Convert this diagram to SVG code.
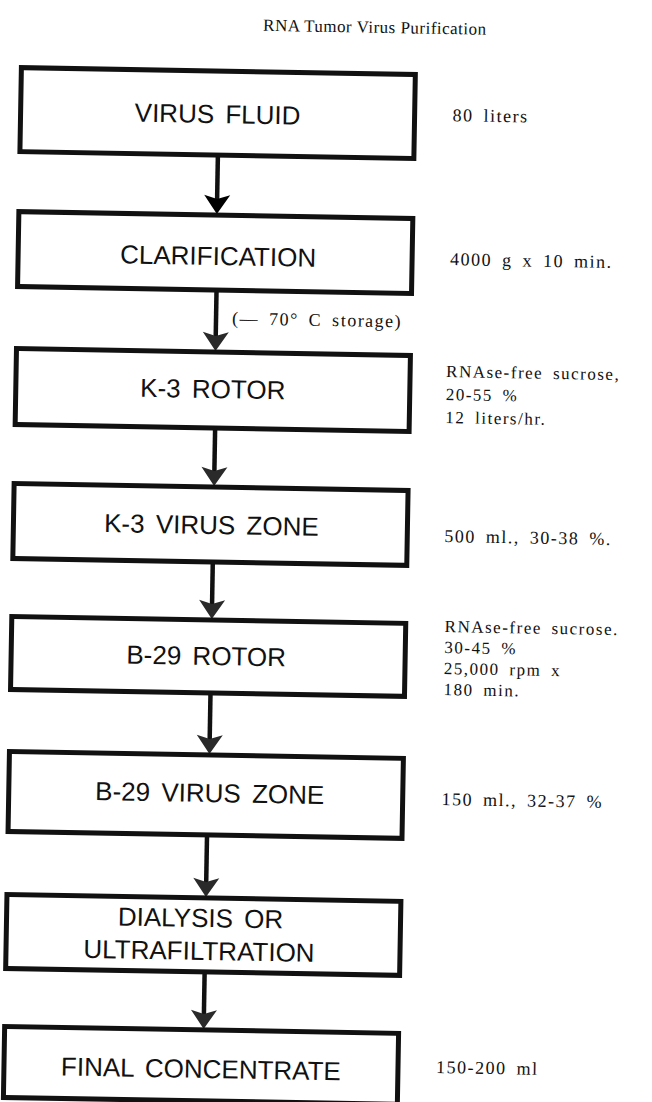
<svg xmlns="http://www.w3.org/2000/svg" width="652" height="1102" viewBox="0 0 652 1102">
<style>
.box{fill:none;stroke:#111;stroke-width:5}
.lbl{font-family:"Liberation Sans",Arial,sans-serif;font-size:26px;fill:#111;text-anchor:middle;word-spacing:4px}
.note{font-family:"Liberation Serif","Times New Roman",serif;font-size:18px;fill:#111;letter-spacing:1.5px;word-spacing:4px}
.sm{font-size:17px}
.title{font-family:"Liberation Serif","Times New Roman",serif;font-size:17px;fill:#111}
.shaft{stroke:#111;stroke-width:4.5}
.head{fill:#2a2a2a}
</style>
<rect width="652" height="1102" fill="#fff"/>
<g transform="rotate(1 326 551)">
<text class="title" x="254" y="32" textLength="223" lengthAdjust="spacing">RNA Tumor Virus Purification</text>
<g id="connectors">
<line class="shaft" x1="211" y1="158" x2="211" y2="202"/><polygon class="head" style="fill:#000" points="198,197 211,201 224,197 211,216"/>
<line class="shaft" x1="212" y1="293" x2="212" y2="339"/>
<text class="note" x="228" y="326">(— 70° C storage)</text>
<polygon class="head" points="199,334 212,338 225,334 212,353"/>
<line class="shaft" x1="213" y1="431" x2="213" y2="474"/><polygon class="head" points="200,469 213,473 226,469 213,488"/>
<line class="shaft" x1="213" y1="565" x2="213" y2="607"/><polygon class="head" points="200,602 213,606 226,602 213,621"/>
<line class="shaft" x1="213" y1="696" x2="213" y2="742"/><polygon class="head" points="200,737 213,741 226,737 213,756"/>
<line class="shaft" x1="212" y1="838" x2="212" y2="885"/><polygon class="head" points="199,880 212,884 225,880 212,899"/>
<line class="shaft" x1="212" y1="975" x2="212" y2="1017"/><polygon class="head" points="199,1012 212,1016 225,1012 212,1031"/>
</g>
<g id="n1"><rect class="box" x="13" y="73" width="394" height="84"/><text class="lbl" x="210" y="125">VIRUS FLUID</text><text class="note" x="445" y="119">80 liters</text></g>
<g id="n2"><rect class="box" x="13" y="217" width="394" height="75"/><text class="lbl" x="213" y="267">CLARIFICATION</text><text class="note" x="445" y="263">4000 g x 10 min.</text></g>
<g id="n3"><rect class="box" x="13" y="354" width="394" height="76"/><text class="lbl" x="210" y="400">K-3 ROTOR</text>
<text class="note sm" x="443" y="375">RNAse-free sucrose,</text><text class="note sm" x="443" y="398">20-55 %</text><text class="note sm" x="443" y="421">12 liters/hr.</text></g>
<g id="n4"><rect class="box" x="13" y="489" width="394" height="75"/><text class="lbl" x="211" y="536">K-3 VIRUS ZONE</text><text class="note" x="444" y="540">500 ml., 30-38 %.</text></g>
<g id="n5"><rect class="box" x="13" y="622" width="394" height="73"/><text class="lbl" x="208" y="667">B-29 ROTOR</text>
<text class="note sm" x="446" y="630">RNAse-free sucrose.</text><text class="note sm" x="446" y="651">30-45 %</text><text class="note sm" x="446" y="672">25,000 rpm x</text><text class="note sm" x="446" y="693">180 min.</text></g>
<g id="n6"><rect class="box" x="13" y="757" width="394" height="80"/><text class="lbl" x="214" y="804">B-29 VIRUS ZONE</text><text class="note" x="446" y="803">150 ml., 32-37 %</text></g>
<g id="n7"><rect class="box" x="13" y="900" width="394" height="74"/><text class="lbl" x="207" y="929">DIALYSIS OR</text><text class="lbl" x="206" y="962">ULTRAFILTRATION</text></g>
<g id="n8"><rect class="box" x="13" y="1032" width="394" height="71"/><text class="lbl" x="210" y="1080">FINAL CONCENTRATE</text><text class="note" x="445" y="1071">150-200 ml</text></g>
</g>
</svg>
